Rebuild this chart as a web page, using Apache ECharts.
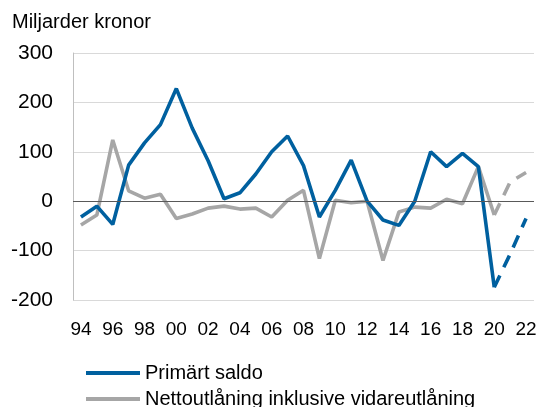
<!DOCTYPE html>
<html>
<head>
<meta charset="utf-8">
<script src="https://cdn.jsdelivr.net/npm/echarts@6/dist/echarts.min.js"></script>
<style>html,body{margin:0;padding:0;background:#fff}#c{width:540px;height:407px}</style>
</head>
<body>
<div id="c"></div>
<script>
const years = ['94','95','96','97','98','99','00','01','02','03','04','05','06','07','08','09','10','11','12','13','14','15','16','17','18','19','20','21','22'];
const tickLabels = ['94','96','98','00','02','04','06','08','10','12','14','16','18','20','22'];
// Outcome 1994-2020
const primartSaldo = [-32,-10,-47,73,118,155,228,148,82,5,17,55,100,132,72,-32,22,83,0,-38,-49,0,100,70,97,70,-174];
const nettoutlaning = [-48,-28,124,21,6,14,-35,-26,-14,-10,-16,-14,-32,2,22,-116,2,-3,0,-120,-22,-12,-14,4,-5,70,-28];
// Forecast 2020-2022 (starting from 2020 outcome)
const primartSaldoProg = [-174,-107,-35];
const nettoutlaningProg = [-28,39,58];

const nameA = 'Primärt saldo';
const nameB = 'Nettoutlåning inklusive vidareutlåning';
const blue = '#00609f', grey = '#a6a6a6';

function progSeries(vals){
  const out = years.map(()=>null);
  const start = years.length - vals.length;
  vals.forEach((v,i)=>{ out[start+i]=v; });
  return out;
}
const font = '"Liberation Sans", Arial, Helvetica, sans-serif';
const legendText = {fontFamily:font,fontSize:20,color:'#000'};
const chart = echarts.init(document.getElementById('c'));
chart.setOption({
  animation:false,
  textStyle:{fontFamily:font},
  title:{text:'Miljarder kronor',left:12,top:12,padding:0,textStyle:{fontFamily:font,fontSize:20,fontWeight:'normal',color:'#000'}},
  grid:{left:73,right:6,top:53,bottom:107,containLabel:false},
  legend:[
    {orient:'vertical',left:86,top:363,padding:0,itemWidth:54,itemHeight:4,itemGap:5,
     data:[nameA],textStyle:legendText,icon:'rect'},
    {orient:'vertical',left:86,top:389,padding:0,itemWidth:54,itemHeight:4,itemGap:5,
     data:[nameB],textStyle:legendText,icon:'rect'}
  ],
  xAxis:{
    type:'category',data:years,boundaryGap:true,
    axisLine:{show:false},axisTick:{show:false},
    axisLabel:{
      interval:0,margin:20,fontSize:19,color:'#000',fontFamily:font,
      formatter:(v)=> tickLabels.indexOf(v)>=0 ? v : ''
    }
  },
  yAxis:{
    type:'value',min:-200,max:300,interval:100,
    axisLine:{show:true,lineStyle:{color:'#bfbfbf',width:1}},
    axisTick:{show:false},
    axisLabel:{margin:20,fontSize:21,color:'#000',fontFamily:font},
    splitLine:{lineStyle:{color:'#d9d9d9',width:1}}
  },
  series:[
    {name:nameB,type:'line',data:nettoutlaning,symbol:'none',lineStyle:{color:grey,width:3.6},itemStyle:{color:grey},
     markLine:{silent:true,symbol:'none',label:{show:false},lineStyle:{color:'#595959',width:1,type:'solid'},data:[{yAxis:0}]}},
    {name:nameB+' prognos',type:'line',data:progSeries(nettoutlaningProg),symbol:'none',lineStyle:{color:grey,width:3.6,type:[13,9]},itemStyle:{color:grey}},
    {name:nameA,type:'line',data:primartSaldo,symbol:'none',lineStyle:{color:blue,width:3.6},itemStyle:{color:blue}},
    {name:nameA+' prognos',type:'line',data:progSeries(primartSaldoProg),symbol:'none',lineStyle:{color:blue,width:3.6,type:[13,9]},itemStyle:{color:blue}}
  ]
});
</script>
</body>
</html>
